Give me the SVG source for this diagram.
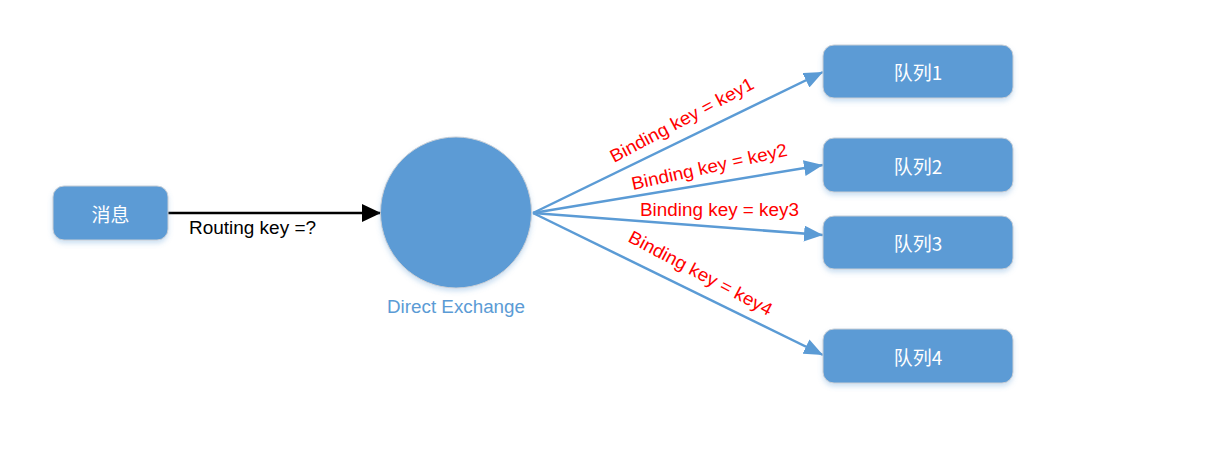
<svg xmlns="http://www.w3.org/2000/svg" width="1219" height="473" viewBox="0 0 1219 473">
<style>
.box{fill:#5B9BD5;stroke:#C9CFD6;stroke-width:1;filter:url(#sh);}
.lbl{font-family:"Noto Sans CJK SC","Liberation Sans",sans-serif;font-size:19px;fill:#FFFFFF;text-anchor:middle;dominant-baseline:central;}
.red{font-family:"Liberation Sans",sans-serif;font-size:18px;fill:#FF0000;}
.blk{font-family:"Liberation Sans",sans-serif;font-size:18px;fill:#000000;}
.bl{stroke:#5B9BD5;stroke-width:2.5;fill:none;marker-end:url(#ab);}
</style>
<defs>
<filter id="sh" x="-20%" y="-20%" width="140%" height="160%">
<feDropShadow dx="0" dy="3" stdDeviation="2.5" flood-color="#5B9BD5" flood-opacity="0.3"/>
</filter>
<marker id="ab" markerUnits="userSpaceOnUse" markerWidth="20" markerHeight="16" refX="19" refY="8" orient="auto">
<path d="M0,0 L19,8 L0,16 Z" fill="#5B9BD5"/>
</marker>
<marker id="ak" markerUnits="userSpaceOnUse" markerWidth="20" markerHeight="18" refX="19" refY="9" orient="auto">
<path d="M0,0 L19,9 L0,18 Z" fill="#000000"/>
</marker>
</defs>
<rect width="1219" height="473" fill="#FFFFFF"/>
<g id="connectors">
<line x1="168" y1="213" x2="381" y2="213" stroke="#000000" stroke-width="2.5" marker-end="url(#ak)"/>
<line class="bl" x1="533" y1="213" x2="823" y2="72"/>
<line class="bl" x1="533" y1="213" x2="823" y2="165"/>
<line class="bl" x1="533" y1="213" x2="823" y2="235"/>
<line class="bl" x1="533" y1="213" x2="823" y2="355"/>
<text class="blk" x="189" y="234" textLength="127" lengthAdjust="spacingAndGlyphs">Routing key =?</text>
<text class="red" transform="translate(614,163) rotate(-28)" textLength="160" lengthAdjust="spacingAndGlyphs">Binding key = key1</text>
<text class="red" transform="translate(633,190) rotate(-12.5)" textLength="159" lengthAdjust="spacingAndGlyphs">Binding key = key2</text>
<text class="red" transform="translate(640,216) rotate(0)" textLength="159" lengthAdjust="spacingAndGlyphs">Binding key = key3</text>
<text class="red" transform="translate(627,241) rotate(28)" textLength="160" lengthAdjust="spacingAndGlyphs">Binding key = key4</text>
</g>
<g id="msg">
<rect class="box" x="53" y="186" width="115" height="54" rx="11"/>
<text class="lbl" x="110.5" y="213">消息</text>
</g>
<g id="exchange">
<circle cx="456" cy="212.5" r="75.5" fill="#5B9BD5" stroke="#C9CFD6" stroke-width="1" filter="url(#sh)"/>
<text x="456" y="313" font-family="Liberation Sans, sans-serif" font-size="18" fill="#5B9BD5" text-anchor="middle" textLength="138" lengthAdjust="spacingAndGlyphs">Direct Exchange</text>
</g>
<g id="q1">
<rect class="box" x="823" y="45" width="190" height="53" rx="11"/>
<text class="lbl" x="918" y="71.5">队列1</text>
</g>
<g id="q2">
<rect class="box" x="823" y="138" width="190" height="54" rx="11"/>
<text class="lbl" x="918" y="165">队列2</text>
</g>
<g id="q3">
<rect class="box" x="823" y="216" width="190" height="53" rx="11"/>
<text class="lbl" x="918" y="242.5">队列3</text>
</g>
<g id="q4">
<rect class="box" x="823" y="329" width="190" height="54" rx="11"/>
<text class="lbl" x="918" y="356">队列4</text>
</g>
</svg>
